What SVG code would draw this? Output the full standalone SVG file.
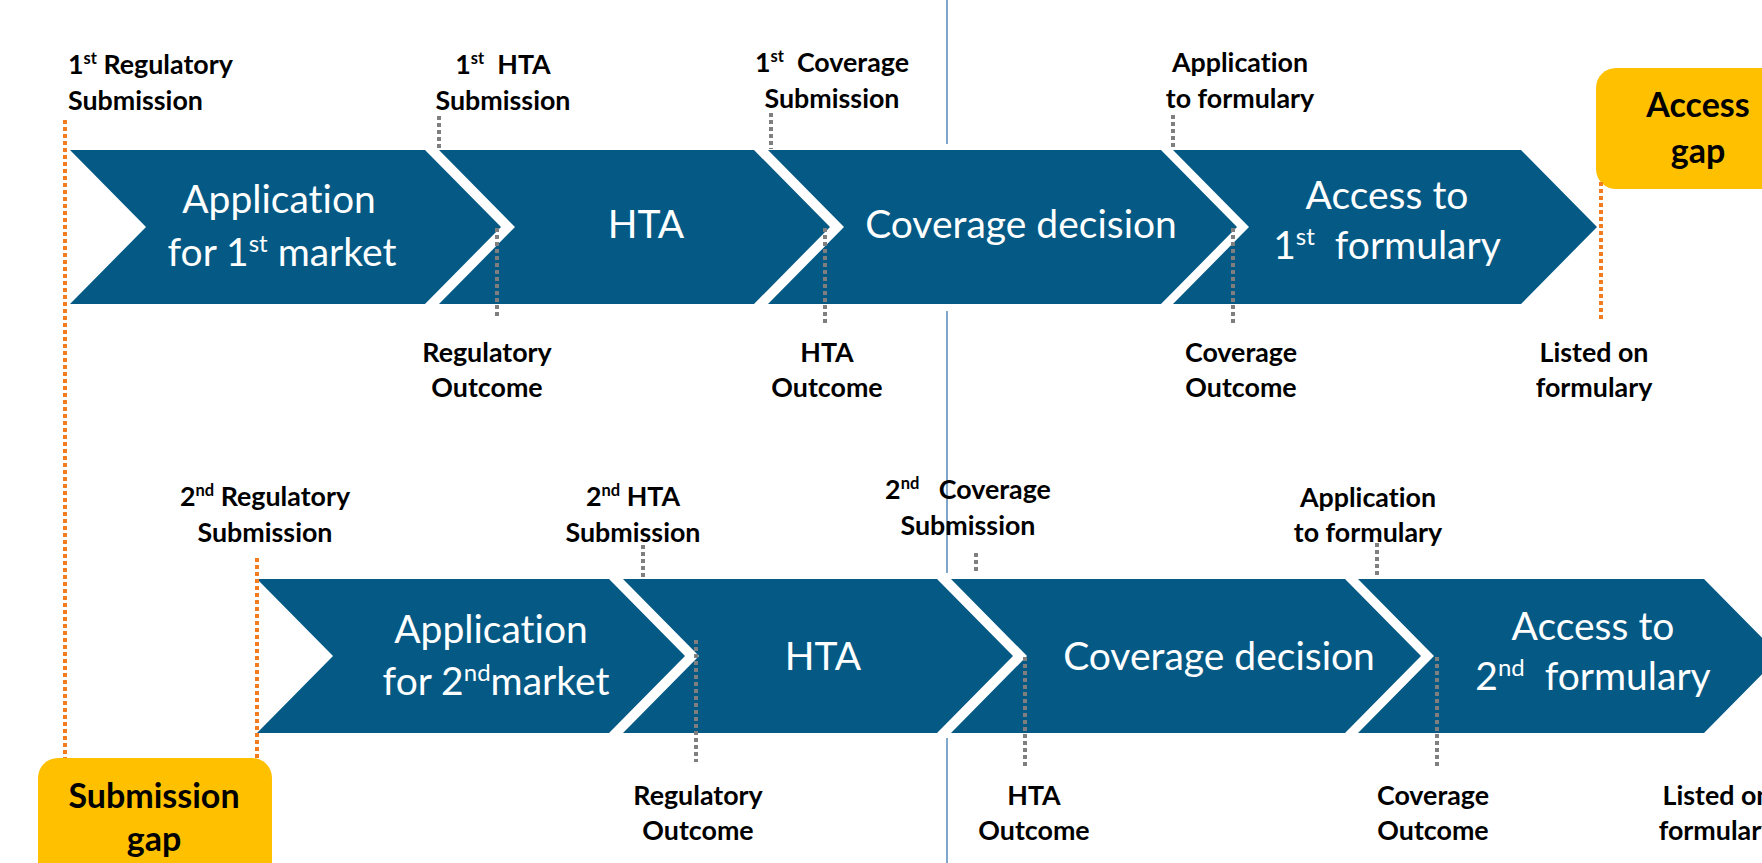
<svg xmlns="http://www.w3.org/2000/svg" width="1762" height="863" viewBox="0 0 1762 863">
<style>
text{font-variant-ligatures:none}
.chev{fill:#045A85}
.lbl{font-family:Lato,"Liberation Sans",sans-serif;font-weight:bold;font-size:26.8px;fill:#000}
.ctr{text-anchor:middle}
.in{font-family:Lato,"Liberation Sans",sans-serif;font-size:39px;fill:#fff;text-anchor:middle}
.gapt{font-family:Lato,"Liberation Sans",sans-serif;font-weight:bold;font-size:34px;fill:#000;text-anchor:middle}
.sup{font-size:16.5px}
.isup{font-size:24px}
.gdot{stroke:#7F7F7F;stroke-width:4;stroke-dasharray:4 3;fill:none}
.odot{stroke:#F47C20;stroke-width:4;stroke-dasharray:4 3;fill:none}
.vline{stroke:#7FA7CB;stroke-width:2;fill:none}
.gapbox{fill:#FFC000}
</style>
<rect width="1762" height="863" fill="#fff"/>
<g id="divider">
<line class="vline" x1="947" y1="0" x2="947" y2="144"/>
<line class="vline" x1="947" y1="311" x2="947" y2="573"/>
<line class="vline" x1="947" y1="738" x2="947" y2="863"/>
</g>
<g id="access-gap">
<rect class="gapbox" x="1596" y="68" width="240" height="121" rx="20"/>
<text class="gapt" x="1698" y="117">Access</text>
<text class="gapt" x="1698" y="163">gap</text>
</g>
<g id="submission-gap">
<rect class="gapbox" x="38" y="758" width="234" height="140" rx="20"/>
<text class="gapt" x="154" y="808">Submission</text>
<text class="gapt" x="154" y="851">gap</text>
</g>
<g id="r1-application">
<polygon class="chev" points="70,150 425,150 501,227 425,304 70,304 146,227"/>
<text class="in" xml:space="preserve"><tspan x="279" y="213">Application</tspan><tspan x="282" y="266">for 1<tspan class="isup" dy="-14">st</tspan><tspan dy="14"> market</tspan></tspan></text>
</g>
<g id="r1-hta">
<polygon class="chev" points="439,150 754,150 830,227 754,304 439,304 515,227"/>
<text class="in" x="646" y="238">HTA</text>
</g>
<g id="r1-coverage">
<polygon class="chev" points="768,150 1161,150 1237,227 1161,304 768,304 844,227"/>
<text class="in" x="1021" y="238">Coverage decision</text>
</g>
<g id="r1-access">
<polygon class="chev" points="1173,150 1521,150 1597,227 1521,304 1173,304 1249,227"/>
<text class="in" xml:space="preserve"><tspan x="1387" y="209">Access to</tspan><tspan x="1387" y="259">1<tspan class="isup" dy="-14">st</tspan><tspan dy="14">  formulary</tspan></tspan></text>
</g>
<g id="r2-application">
<polygon class="chev" points="257,579 609,579 685,656 609,733 257,733 333,656"/>
<text class="in" xml:space="preserve"><tspan x="491" y="643">Application</tspan><tspan x="496" y="695">for 2<tspan class="isup" dy="-14">nd</tspan><tspan dy="14">market</tspan></tspan></text>
</g>
<g id="r2-hta">
<polygon class="chev" points="623,579 937,579 1013,656 937,733 623,733 699,656"/>
<text class="in" x="823" y="670">HTA</text>
</g>
<g id="r2-coverage">
<polygon class="chev" points="951,579 1345,579 1421,656 1345,733 951,733 1027,656"/>
<text class="in" x="1219" y="670">Coverage decision</text>
</g>
<g id="r2-access">
<polygon class="chev" points="1358,579 1704,579 1780,656 1704,733 1358,733 1434,656"/>
<text class="in" xml:space="preserve"><tspan x="1593" y="640">Access to</tspan><tspan x="1593" y="690">2<tspan class="isup" dy="-14">nd</tspan><tspan dy="14">  formulary</tspan></tspan></text>
</g>
<g id="connectors">
<line class="odot" x1="65" y1="120" x2="65" y2="758"/>
<line class="odot" x1="257" y1="558" x2="257" y2="758"/>
<line class="odot" x1="1601" y1="182" x2="1601" y2="320"/>
<line class="gdot" x1="439" y1="116" x2="439" y2="151"/>
<line class="gdot" x1="497" y1="228" x2="497" y2="318"/>
<line class="gdot" x1="771" y1="113" x2="771" y2="149"/>
<line class="gdot" x1="825" y1="228" x2="825" y2="323"/>
<line class="gdot" x1="1173" y1="115" x2="1173" y2="149"/>
<line class="gdot" x1="1233" y1="228" x2="1233" y2="323"/>
<line class="gdot" x1="643" y1="545" x2="643" y2="580"/>
<line class="gdot" x1="696" y1="640" x2="696" y2="762"/>
<line class="gdot" x1="976" y1="553" x2="976" y2="573"/>
<line class="gdot" x1="1025" y1="657" x2="1025" y2="767"/>
<line class="gdot" x1="1377" y1="543" x2="1377" y2="578"/>
<line class="gdot" x1="1437" y1="657" x2="1437" y2="767"/>
</g>
<g id="milestone-labels">
<text class="lbl" xml:space="preserve"><tspan x="68" y="74">1<tspan class="sup" dy="-10">st</tspan><tspan dy="10"> Regulatory</tspan></tspan><tspan x="68" y="110">Submission</tspan></text>
<text class="lbl ctr" xml:space="preserve"><tspan x="503" y="74">1<tspan class="sup" dy="-10">st</tspan><tspan dy="10">  HTA</tspan></tspan><tspan x="503" y="110">Submission</tspan></text>
<text class="lbl ctr" xml:space="preserve"><tspan x="832" y="72">1<tspan class="sup" dy="-10">st</tspan><tspan dy="10">  Coverage</tspan></tspan><tspan x="832" y="108">Submission</tspan></text>
<text class="lbl ctr"><tspan x="1240" y="72">Application</tspan><tspan x="1240" y="108">to formulary</tspan></text>
<text class="lbl ctr"><tspan x="487" y="362">Regulatory</tspan><tspan x="487" y="397">Outcome</tspan></text>
<text class="lbl ctr"><tspan x="827" y="362">HTA</tspan><tspan x="827" y="397">Outcome</tspan></text>
<text class="lbl ctr"><tspan x="1241" y="362">Coverage</tspan><tspan x="1241" y="397">Outcome</tspan></text>
<text class="lbl ctr"><tspan x="1594" y="362">Listed on</tspan><tspan x="1594" y="397">formulary</tspan></text>
<text class="lbl ctr" xml:space="preserve"><tspan x="265" y="506">2<tspan class="sup" dy="-10">nd</tspan><tspan dy="10"> Regulatory</tspan></tspan><tspan x="265" y="542">Submission</tspan></text>
<text class="lbl ctr" xml:space="preserve"><tspan x="633" y="506">2<tspan class="sup" dy="-10">nd</tspan><tspan dy="10"> HTA</tspan></tspan><tspan x="633" y="542">Submission</tspan></text>
<text class="lbl ctr" xml:space="preserve"><tspan x="968" y="499">2<tspan class="sup" dy="-10">nd</tspan><tspan dy="10">   Coverage</tspan></tspan><tspan x="968" y="535">Submission</tspan></text>
<text class="lbl ctr"><tspan x="1368" y="507">Application</tspan><tspan x="1368" y="542">to formulary</tspan></text>
<text class="lbl ctr"><tspan x="698" y="805">Regulatory</tspan><tspan x="698" y="840">Outcome</tspan></text>
<text class="lbl ctr"><tspan x="1034" y="805">HTA</tspan><tspan x="1034" y="840">Outcome</tspan></text>
<text class="lbl ctr"><tspan x="1433" y="805">Coverage</tspan><tspan x="1433" y="840">Outcome</tspan></text>
<text class="lbl ctr"><tspan x="1717" y="805">Listed on</tspan><tspan x="1717" y="840">formulary</tspan></text>
</g>
</svg>
